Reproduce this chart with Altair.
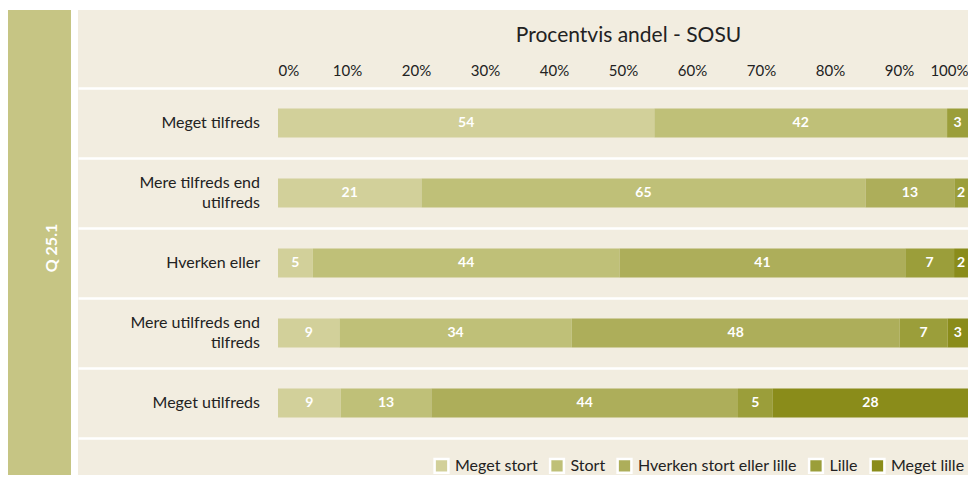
import altair as alt
import pandas as pd

rows = ["Meget tilfreds", "Mere tilfreds end|utilfreds", "Hverken eller",
        "Mere utilfreds end|tilfreds", "Meget utilfreds"]
cats = ["Meget stort", "Stort", "Hverken stort eller lille", "Lille", "Meget lille"]
colors = ["#d2d09a", "#bfc078", "#adae5a", "#9b9e3a", "#8a8c1a"]

v_meget_stort = [54, 21, 5, 9, 9]
v_stort = [42, 65, 44, 34, 13]
v_hverken = [0, 13, 41, 48, 44]
v_lille = [3, 2, 7, 7, 5]
v_meget_lille = [0, 0, 2, 3, 28]

title = "Procentvis andel - SOSU"
side_label = "Q 25.1"

series = [v_meget_stort, v_stort, v_hverken, v_lille, v_meget_lille]
recs = []
for ci, (c, vals) in enumerate(zip(cats, series)):
    for r, v in zip(rows, vals):
        recs.append({"row": r, "cat": c, "order": ci, "value": v})
df = pd.DataFrame(recs)
rows_df = pd.DataFrame({"row": rows, "lines": [r.count("|") + 1 for r in rows]})
one = pd.DataFrame({"t": [side_label]})

FONT = "Lato"
W, H = 890, 350
XMIN = -200 / 690  # left part of the panel holds the row labels

yscale = alt.Scale(domain=rows, paddingInner=0, paddingOuter=0)
xscale = alt.Scale(domain=[XMIN, 1], nice=False, zero=False)
color_scale = alt.Scale(domain=cats, range=colors)

base = alt.Chart(df).transform_stack(
    stack="value", groupby=["row"], as_=["v0", "v1"], offset="normalize",
    sort=[alt.SortField("order", "ascending")]
).transform_calculate(mid="(datum.v0 + datum.v1) / 2")

bars = base.mark_bar(size=29).encode(
    y=alt.Y("row:N", scale=yscale, sort=rows,
            axis=alt.Axis(grid=True, gridColor="white", gridWidth=2.5, gridOpacity=1,
                          tickBand="extent", labels=False, ticks=False, domain=False,
                          title=None)),
    x=alt.X("v0:Q", scale=xscale,
            axis=alt.Axis(orient="top", values=[i / 10 for i in range(11)], format=".0%",
                          ticks=False, domain=False, grid=False,
                          labelAlign={"condition": [{"test": "datum.value == 0", "value": "left"},
                                                    {"test": "datum.value == 1", "value": "right"}],
                                      "value": "center"},
                          labelFontSize=15, labelColor="#222222", labelFont=FONT,
                          labelPadding=10, title=title, titleFontSize=21,
                          titleFontWeight="normal", titleFont=FONT, titleColor="#222222",
                          titlePadding=18, titleX=550, zindex=1)),
    x2="v1:Q",
    color=alt.Color("cat:N", scale=color_scale, sort=cats,
                    legend=alt.Legend(orient="none", legendX=355, legendY=369, direction="horizontal",
                                      columns=5, title=None, symbolType="square", symbolSize=190,
                                      symbolStrokeColor="white", symbolStrokeWidth=2.5,
                                      symbolOpacity=1, labelFontSize=16, labelFont=FONT,
                                      labelColor="#222222", columnPadding=6.5, labelOffset=5,
                                      zindex=1)),
)

labels = base.transform_filter("datum.value > 0").mark_text(
    color="white", fontSize=14, fontWeight="bold", font=FONT, baseline="middle"
).encode(
    y=alt.Y("row:N", scale=yscale, sort=rows),
    x=alt.X("mid:Q", scale=xscale),
    text=alt.Text("value:Q"),
)

row_text1 = alt.Chart(rows_df).transform_filter("datum.lines == 1").mark_text(
    align="right", baseline="middle", fontSize=16, font=FONT, color="#222222"
).encode(
    y=alt.Y("row:N", scale=yscale, sort=rows),
    x=alt.value(182),
    text="row:N",
)
row_text2 = alt.Chart(rows_df).transform_filter("datum.lines == 2").mark_text(
    align="right", baseline="middle", fontSize=16, font=FONT, color="#222222",
    lineBreak="|", lineHeight=20, dy=-10
).encode(
    y=alt.Y("row:N", scale=yscale, sort=rows),
    x=alt.value(182),
    text="row:N",
)

green = alt.Chart(one).mark_rect(color="#c6c584").encode(
    x=alt.value(-71), x2=alt.value(-7), y=alt.value(-78), y2=alt.value(H + 60),
)
gap = alt.Chart(one).mark_rect(color="white").encode(
    x=alt.value(-7), x2=alt.value(0), y=alt.value(-90), y2=alt.value(H + 60),
)
top_strip = alt.Chart(one).mark_rect(color="white").encode(
    x=alt.value(-71), x2=alt.value(W), y=alt.value(-90), y2=alt.value(-78),
)
side = alt.Chart(one).mark_text(
    angle=270, color="white", fontSize=16, fontWeight="bold", font=FONT,
    align="center", baseline="middle"
).encode(x=alt.value(-26), y=alt.value(160), text="t:N")

chart = alt.layer(
    green, gap, top_strip, bars, labels, row_text1, row_text2, side
).properties(
    width=W, height=H,
    padding={"left": 70, "top": 80, "right": 0, "bottom": 37},
    autosize=alt.AutoSizeParams(type="none"),
    background="#f2ede0",
).configure_view(stroke=None)

chart.save("out.html", embed_options={"renderer": "svg", "actions": False})
